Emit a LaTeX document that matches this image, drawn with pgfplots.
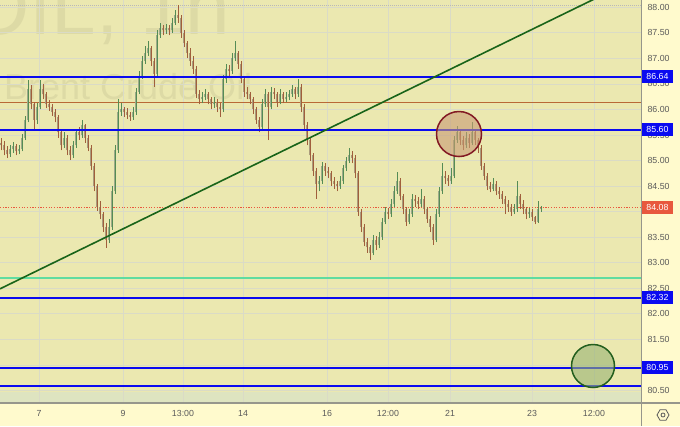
\documentclass[border=0pt]{standalone}
\usepackage{pgfplots}
\pgfplotsset{compat=1.18}
\usepackage{pgfplotstable}
\usepackage{fontspec}
\setmainfont{Liberation Sans}
\usetikzlibrary{shapes.geometric}

\definecolor{plotbg}{RGB}{235,232,176}
\definecolor{outerbg}{RGB}{255,250,205}
\definecolor{bandbg}{RGB}{222,228,192}
\definecolor{gridc}{RGB}{218,219,198}
\definecolor{tickc}{RGB}{90,90,90}
\definecolor{wm}{RGB}{221,218,165}
\definecolor{lvlblue}{RGB}{10,10,240}
\definecolor{curc}{RGB}{232,88,62}
\definecolor{brownl}{RGB}{185,105,55}
\definecolor{mint}{RGB}{95,220,160}
\definecolor{trend}{RGB}{25,100,25}
\definecolor{upwick}{RGB}{85,140,85}
\definecolor{dnwick}{RGB}{160,95,60}
\definecolor{upbody}{RGB}{158,170,138}
\definecolor{dnbody}{RGB}{170,155,125}
\definecolor{redc}{RGB}{130,25,35}
\definecolor{redfill}{RGB}{200,155,116}
\definecolor{grc}{RGB}{35,95,30}
\definecolor{grfill}{RGB}{152,179,116}
\definecolor{sepc}{RGB}{150,150,140}

\pgfplotstableread{
x o h l c
1 85.35 85.45 85.20 85.30
4 85.30 85.38 85.10 85.20
7 85.20 85.28 85.05 85.12
10 85.12 85.30 85.08 85.22
13 85.22 85.36 85.15 85.28
16 85.28 85.33 85.10 85.18
19 85.18 85.30 85.12 85.22
22 85.22 85.52 85.18 85.45
25 85.45 85.88 85.40 85.80
28 85.80 86.58 85.75 86.40
31 86.40 86.48 86.00 86.10
34 86.10 86.15 85.62 85.80
37 85.80 86.12 85.72 86.05
40 86.05 86.58 86.00 86.40
43 86.40 86.50 86.20 86.30
46 86.30 86.35 86.02 86.10
49 86.10 86.18 85.98 86.05
52 86.05 86.10 85.88 85.95
55 85.95 86.00 85.75 85.85
58 85.85 85.90 85.45 85.55
61 85.55 85.62 85.20 85.30
64 85.30 85.55 85.25 85.45
67 85.45 85.50 85.10 85.20
70 85.20 85.28 85.01 85.10
73 85.10 85.38 85.05 85.30
76 85.30 85.62 85.25 85.55
79 85.55 85.65 85.40 85.50
82 85.50 85.80 85.45 85.70
85 85.70 85.72 85.35 85.45
88 85.45 85.50 85.18 85.25
91 85.25 85.30 84.82 84.90
94 84.90 84.95 84.40 84.50
97 84.50 84.55 84.02 84.10
100 84.10 84.20 83.85 83.95
103 83.95 84.00 83.60 83.70
106 83.70 83.78 83.29 83.45
109 83.45 83.85 83.38 83.70
112 83.70 84.50 83.65 84.40
115 84.40 85.30 84.35 85.20
118 85.20 86.20 85.15 85.95
121 85.95 86.12 85.88 86.00
124 86.00 86.05 85.85 85.95
127 85.95 86.02 85.82 85.90
130 85.90 85.95 85.78 85.85
133 85.85 86.05 85.80 85.95
136 85.95 86.42 85.90 86.35
139 86.35 86.75 86.30 86.65
142 86.65 87.05 86.60 86.95
145 86.95 87.25 86.90 87.10
148 87.10 87.35 87.05 87.20
151 87.20 87.25 86.85 86.95
154 86.95 87.00 86.45 86.70
157 86.70 87.55 86.65 87.45
160 87.45 87.70 87.40 87.60
163 87.60 87.66 87.45 87.55
166 87.55 87.68 87.48 87.60
169 87.60 87.65 87.45 87.55
172 87.55 87.80 87.50 87.70
175 87.70 87.95 87.65 87.85
178 87.85 88.05 87.70 87.80
181 87.80 87.85 87.40 87.50
184 87.50 87.55 87.22 87.30
187 87.30 87.35 87.00 87.10
190 87.10 87.20 86.85 86.95
193 86.95 87.05 86.70 86.80
196 86.80 86.85 86.22 86.30
199 86.30 86.38 86.10 86.20
202 86.20 86.35 86.12 86.25
205 86.25 86.40 86.18 86.30
208 86.30 86.35 86.10 86.20
211 86.20 86.25 86.00 86.10
214 86.10 86.25 86.02 86.15
217 86.15 86.20 85.95 86.05
220 86.05 86.12 85.85 86.00
223 86.00 86.68 85.95 86.60
226 86.60 86.90 86.52 86.80
229 86.80 86.88 86.65 86.75
232 86.75 87.10 86.70 87.00
235 87.00 87.35 86.95 87.10
238 87.10 87.15 86.80 86.90
241 86.90 86.95 86.52 86.60
244 86.60 86.65 86.25 86.35
247 86.35 86.45 86.20 86.30
250 86.30 86.35 86.10 86.20
253 86.20 86.25 85.92 86.00
256 86.00 86.05 85.72 85.80
259 85.80 85.85 85.55 85.65
262 85.65 86.20 85.60 86.10
265 86.10 86.40 86.05 86.30
268 86.30 86.35 85.40 86.05
271 86.05 86.45 86.00 86.35
274 86.35 86.42 86.20 86.30
277 86.30 86.35 86.05 86.15
280 86.15 86.40 86.10 86.30
283 86.30 86.35 86.12 86.20
286 86.20 86.35 86.15 86.25
289 86.25 86.38 86.18 86.30
292 86.30 86.48 86.25 86.40
295 86.40 86.45 86.20 86.30
298 86.30 86.60 86.25 86.45
301 86.45 86.50 85.95 86.05
304 86.05 86.10 85.62 85.70
307 85.70 85.75 85.30 85.40
310 85.40 85.45 85.00 85.10
313 85.10 85.15 84.70 84.80
316 84.80 84.85 84.25 84.55
319 84.55 84.70 84.40 84.60
322 84.60 84.98 84.55 84.90
325 84.90 84.95 84.70 84.80
328 84.80 84.88 84.65 84.75
331 84.75 84.80 84.50 84.60
334 84.60 84.68 84.45 84.55
337 84.55 84.60 84.40 84.50
340 84.50 84.70 84.45 84.60
343 84.60 84.92 84.55 84.85
346 84.85 85.08 84.80 85.00
349 85.00 85.25 84.95 85.10
352 85.10 85.18 84.95 85.05
355 85.05 85.10 84.65 84.75
358 84.75 84.80 83.92 84.00
361 84.00 84.05 83.60 83.70
364 83.70 83.75 83.32 83.40
367 83.40 83.48 83.20 83.30
370 83.30 83.35 83.06 83.20
373 83.20 83.55 83.15 83.45
376 83.45 83.52 83.25 83.35
379 83.35 83.60 83.28 83.50
382 83.50 83.88 83.45 83.80
385 83.80 84.10 83.75 84.00
388 84.00 84.08 83.85 83.95
391 83.95 84.25 83.90 84.15
394 84.15 84.50 84.10 84.40
397 84.40 84.78 84.35 84.60
400 84.60 84.65 84.22 84.30
403 84.30 84.35 83.95 84.05
406 84.05 84.10 83.72 83.80
409 83.80 84.05 83.75 83.95
412 83.95 84.35 83.90 84.25
415 84.25 84.32 84.10 84.20
418 84.20 84.28 84.05 84.15
421 84.15 84.45 84.10 84.25
424 84.25 84.30 83.95 84.05
427 84.05 84.10 83.78 83.85
430 83.85 83.92 83.60 83.70
433 83.70 83.75 83.35 83.45
436 83.45 84.05 83.40 83.95
439 83.95 84.48 83.90 84.40
442 84.40 84.95 84.35 84.70
445 84.70 84.80 84.55 84.65
448 84.65 84.72 84.50 84.60
451 84.60 84.85 84.55 84.70
454 84.70 85.48 84.65 85.40
457 85.40 85.68 85.35 85.55
460 85.55 85.60 85.30 85.40
463 85.40 85.48 85.20 85.30
466 85.30 85.55 85.25 85.45
469 85.45 85.52 85.25 85.35
472 85.35 85.75 85.30 85.55
475 85.55 85.60 85.30 85.40
478 85.40 85.45 85.15 85.25
481 85.25 85.30 84.82 84.90
484 84.90 84.95 84.62 84.70
487 84.70 84.75 84.42 84.50
490 84.50 84.58 84.38 84.45
493 84.45 84.65 84.40 84.55
496 84.55 84.60 84.32 84.40
499 84.40 84.48 84.25 84.35
502 84.35 84.40 84.15 84.25
505 84.25 84.30 83.95 84.15
508 84.15 84.22 84.00 84.10
511 84.10 84.15 83.92 84.00
514 84.00 84.15 83.95 84.05
517 84.05 84.60 84.00 84.30
520 84.30 84.35 84.05 84.15
523 84.15 84.22 83.95 84.05
526 84.05 84.10 83.85 83.95
529 83.95 84.08 83.88 84.00
532 84.00 84.05 83.82 83.90
535 83.90 83.92 83.75 83.80
538 83.80 84.20 83.78 84.05
541 84.05 84.12 84.00 84.08
}\bars

\begin{document}
\begin{tikzpicture}
\useasboundingbox (0,0) rectangle (680pt,426pt);
\fill[outerbg] (0,0) rectangle (680pt,426pt);
\fill[plotbg] (0,23pt) rectangle (641pt,426pt);
\fill[bandbg] (0,23pt) rectangle (641pt,34pt);
\node[anchor=base east, text=wm, font=\fontsize{80}{80}\selectfont, inner sep=0] at (230pt,391pt) {UKOIL, 1h};
\node[anchor=base west, text=wm, font=\fontsize{36}{36}\selectfont, inner sep=0] at (4pt,326pt) {Brent Crude Oil};

\begin{axis}[
  at={(0pt,23pt)}, anchor=south west,
  scale only axis, width=641pt, height=403pt,
  xmin=0, xmax=641, ymin=80.256, ymax=88.143,
  axis line style={draw=none},
  xtick={39,123,183,243,327,388,450,532,594},
  xticklabels={7,9,13:00,14,16,12:00,21,23,12:00},
  ytick={80.5,81,81.5,82,82.5,83,83.5,84,84.5,85,85.5,86,86.5,87,87.5,88},
  yticklabels={80.50,,81.50,82.00,82.50,83.00,83.50,,84.50,85.00,85.50,86.00,86.50,87.00,87.50,88.00},
  yticklabel pos=right,
  /pgf/number format/assume math mode=true,
  yticklabel style={xshift=3pt},
  xticklabel style={yshift=-4pt},
  tick style={draw=none},
  grid=major, major grid style={draw=gridc, line width=0.8pt},
  tick label style={font=\fontsize{8.8}{10}\selectfont, text=tickc},
  clip=true,
]
% levels
\addplot[draw=gray!55, line width=1pt, dash pattern=on 1pt off 1pt, forget plot] coordinates {(0,88.03) (641,88.03)};
\addplot[draw=brownl, line width=1pt, forget plot] coordinates {(0,86.13) (641,86.13)};
\addplot[draw=mint, line width=2pt, forget plot] coordinates {(0,82.71) (641,82.71)};
\addplot[draw=lvlblue, line width=1.3pt, forget plot] coordinates {(0,80.59) (641,80.59)};
\addplot[draw=curc, line width=1.2pt, dash pattern=on 1.2pt off 1.5pt, forget plot] coordinates {(0,84.08) (641,84.08)};

% candle bodies
\addplot[draw=none, mark=none, forget plot, restrict expr to domain={\thisrow{c}-\thisrow{o}}{0:10},
  error bars/.cd, y dir=plus, y explicit, error mark=none, error bar style={draw=upbody, line width=1.3pt}]
  table[x=x, y expr={min(\thisrow{o},\thisrow{c})}, y error plus expr={abs(\thisrow{c}-\thisrow{o})}] {\bars};
\addplot[draw=none, mark=none, forget plot, restrict expr to domain={\thisrow{c}-\thisrow{o}}{-10:-0.0001},
  error bars/.cd, y dir=plus, y explicit, error mark=none, error bar style={draw=dnbody, line width=1.3pt}]
  table[x=x, y expr={min(\thisrow{o},\thisrow{c})}, y error plus expr={abs(\thisrow{c}-\thisrow{o})}] {\bars};
% wicks
\addplot[draw=none, mark=none, forget plot, restrict expr to domain={\thisrow{c}-\thisrow{o}}{0:10},
  error bars/.cd, y dir=plus, y explicit, error mark=none, error bar style={draw=upwick, line width=0.45pt}]
  table[x=x, y=l, y error plus expr={\thisrow{h}-\thisrow{l}}] {\bars};
\addplot[draw=none, mark=none, forget plot, restrict expr to domain={\thisrow{c}-\thisrow{o}}{-10:-0.0001},
  error bars/.cd, y dir=plus, y explicit, error mark=none, error bar style={draw=dnwick, line width=0.45pt}]
  table[x=x, y=l, y error plus expr={\thisrow{h}-\thisrow{l}}] {\bars};

% blue support/resistance levels
\addplot[draw=lvlblue, line width=2pt, forget plot] coordinates {(0,86.64) (641,86.64)};
\addplot[draw=lvlblue, line width=2pt, forget plot] coordinates {(0,85.60) (641,85.60)};
\addplot[draw=lvlblue, line width=2pt, forget plot] coordinates {(0,82.32) (641,82.32)};
\addplot[draw=lvlblue, line width=2pt, forget plot] coordinates {(0,80.95) (641,80.95)};

% trend line
\addplot[draw=trend, line width=1.6pt, forget plot] coordinates {(0,82.49) (592,88.14) (620,88.42)};

% circles
\draw[draw=redc, line width=1.5pt, fill=redfill, fill opacity=0.6] (axis cs:459,85.52) circle[radius=22.5pt];
\draw[draw=grc, line width=1.5pt, fill=grfill, fill opacity=0.6] (axis cs:593,80.98) circle[radius=21.5pt];

\coordinate (L1) at (axis cs:641,86.64);
\coordinate (L2) at (axis cs:641,85.60);
\coordinate (L3) at (axis cs:641,84.08);
\coordinate (L4) at (axis cs:641,82.32);
\coordinate (L5) at (axis cs:641,80.95);
\end{axis}

% frame lines
\draw[sepc, line width=1.4pt] (0,23pt) -- (680pt,23pt);
\draw[sepc, line width=1.4pt] (641.7pt,0) -- (641.7pt,426pt);

% price boxes
\tikzset{pbox/.style={fill=#1, text=white, minimum width=31pt, minimum height=13pt, inner sep=0pt, font=\fontsize{8.8}{10}\selectfont}}
\node[pbox=lvlblue] at ([xshift=16.5pt]L1) {86.64};
\node[pbox=lvlblue] at ([xshift=16.5pt]L2) {85.60};
\node[pbox=curc] at ([xshift=16.5pt]L3) {84.08};
\node[pbox=lvlblue] at ([xshift=16.5pt]L4) {82.32};
\node[pbox=lvlblue] at ([xshift=16.5pt]L5) {80.95};

% settings icon
\node[regular polygon, regular polygon sides=6, draw=tickc, line width=0.8pt, minimum size=12pt, inner sep=0pt] at (663pt,11pt) {};
\draw[tickc, line width=0.8pt] (663pt,11pt) circle[radius=2pt];
\end{tikzpicture}
\end{document}
